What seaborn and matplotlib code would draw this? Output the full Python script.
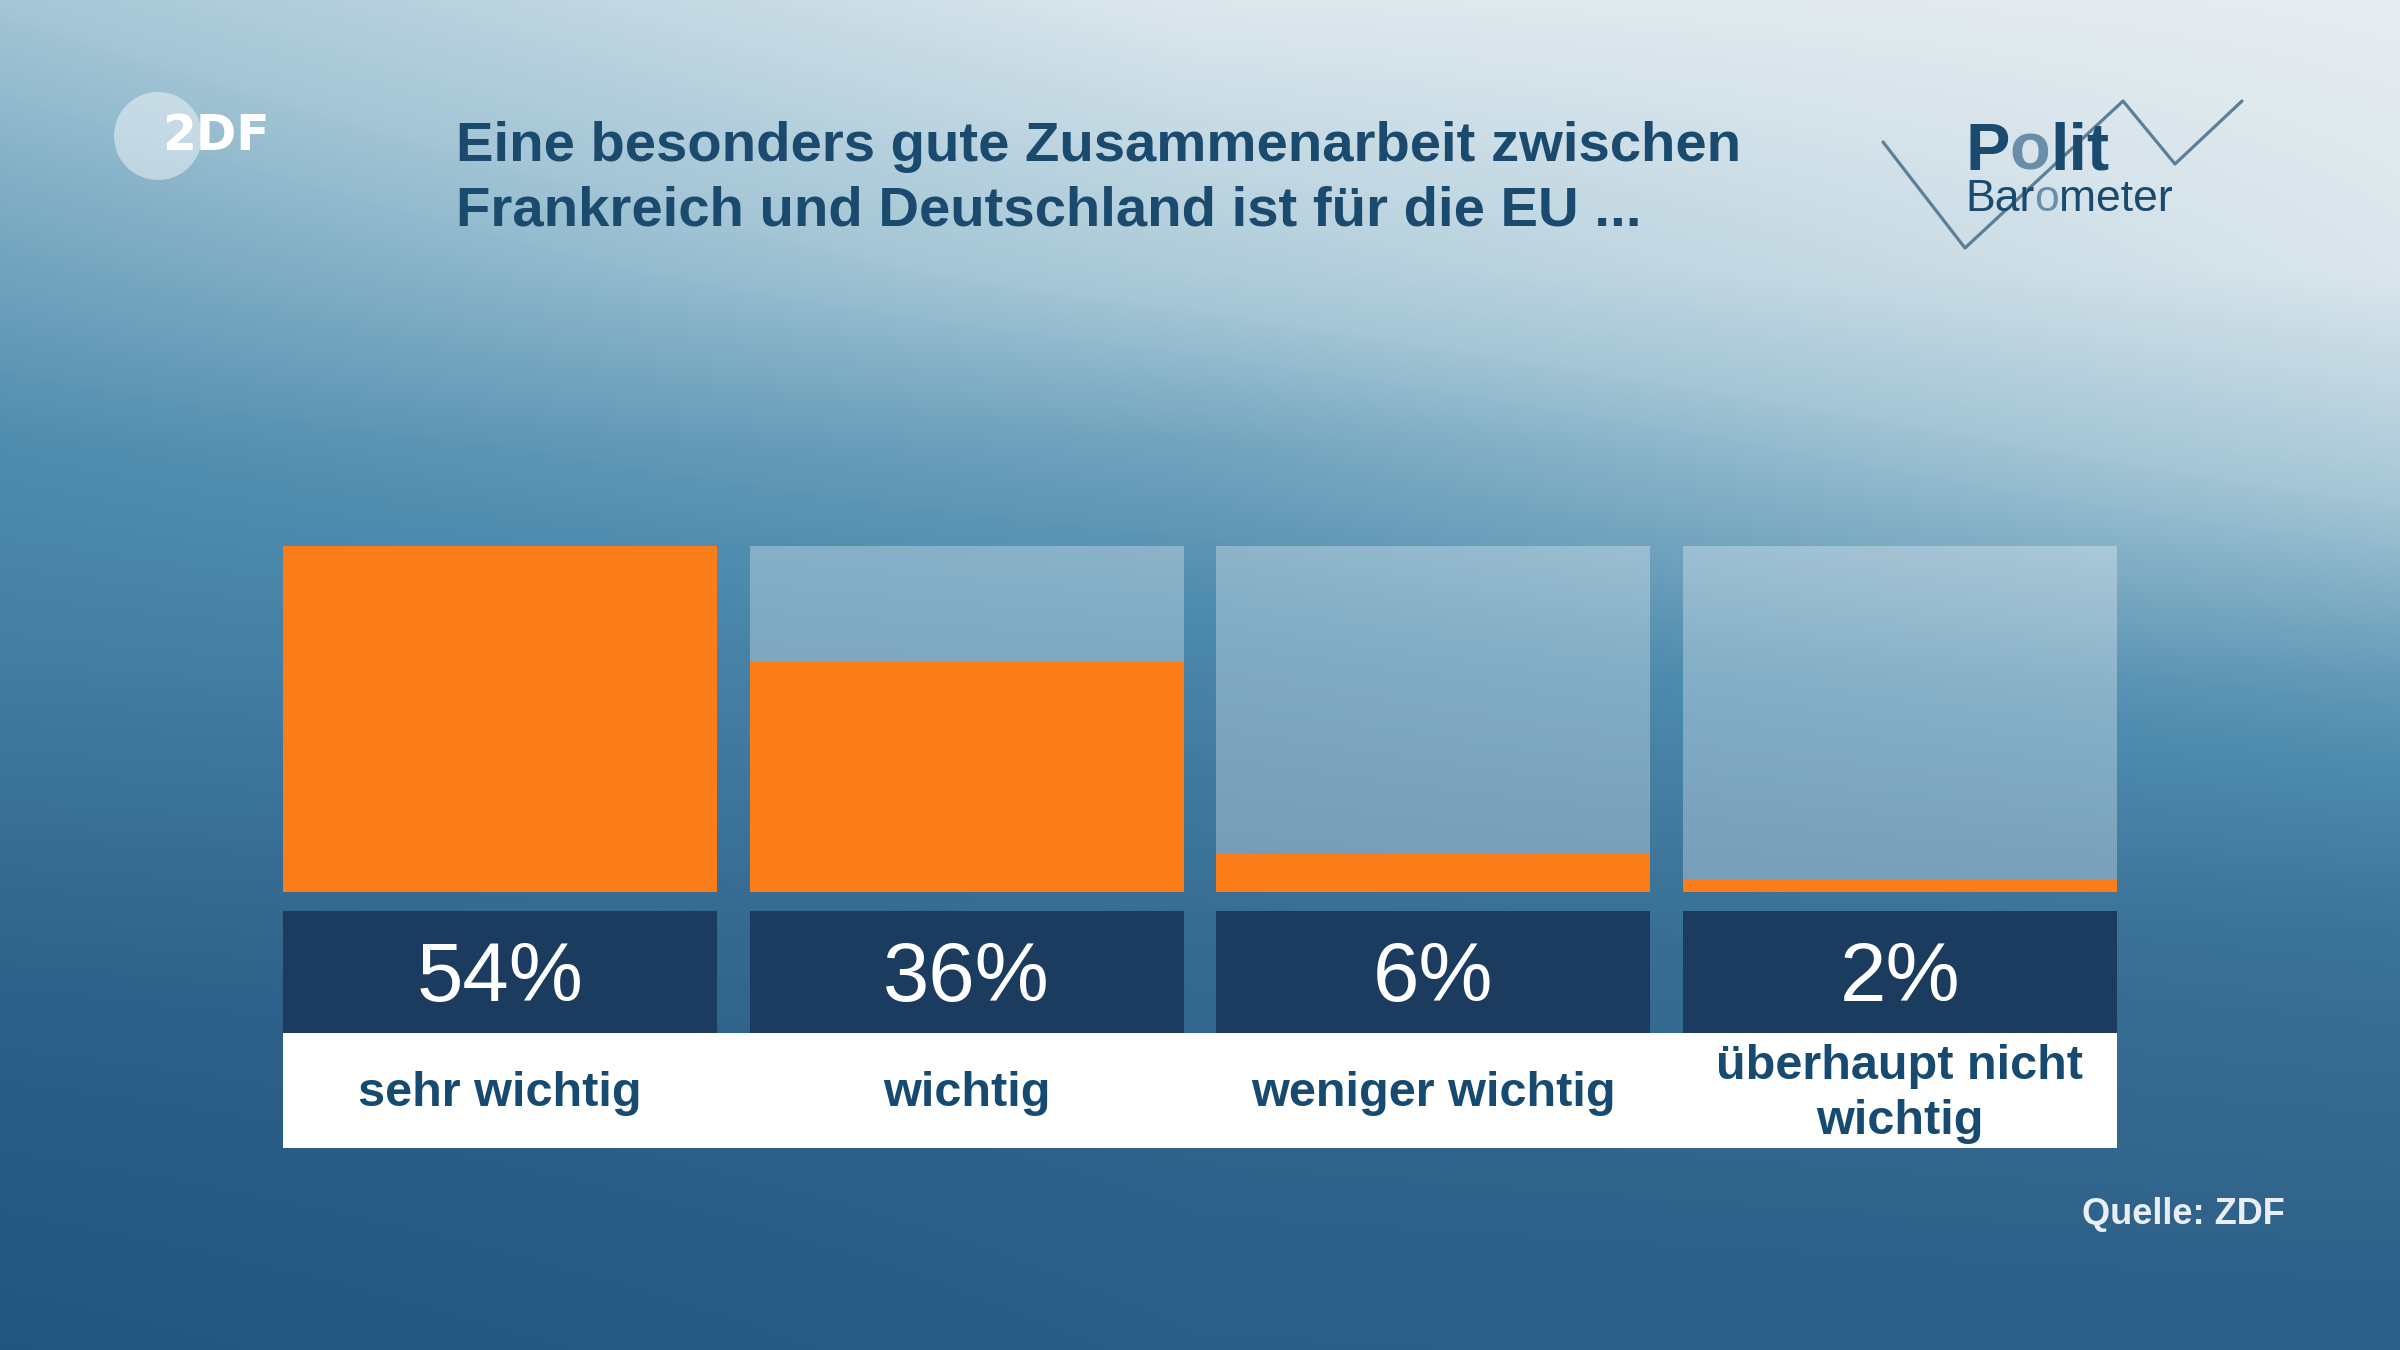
import numpy as np
import pandas as pd
import matplotlib
matplotlib.use("Agg")
import matplotlib.pyplot as plt
from matplotlib.colors import LinearSegmentedColormap
from matplotlib.patches import Ellipse, Rectangle
from matplotlib.lines import Line2D
import seaborn as sns

# data
categories = ["sehr wichtig", "wichtig", "weniger wichtig", "überhaupt nicht\nwichtig"]
values = [54, 36, 6, 2]
title = "Eine besonders gute Zusammenarbeit zwischen\nFrankreich und Deutschland ist für die EU ..."
source = "Quelle: ZDF"

ORANGE = "#fb7d1a"
DARK = "#1b3c5f"
TEXT_BLUE = "#174a70"

sns.set_theme(style="white")
plt.rcParams["font.family"] = ["Liberation Sans", "DejaVu Sans"]

fig = plt.figure(figsize=(24, 13.5), dpi=100)

# background gradient
bg = fig.add_axes([0, 0, 1, 1], zorder=0)
nh, nw = 270, 480
yf = np.linspace(0, 1, nh)[:, None]
xf = np.linspace(0, 1, nw)[None, :]
s_left = np.interp(yf, [0, .33, .5, .7, 1], [.72, .45, .36, .22, .04])
s_mid = np.interp(yf, [0, .2, .33, .5, .7, 1], [.96, .76, .56, .4, .26, .17])
s_right = np.interp(yf, [0, .2, .33, .5, .7, 1], [1, .95, .78, .52, .3, .18])
u = np.broadcast_to(xf, (nh, nw))
s = np.where(u < 0.5, s_left + (s_mid - s_left) * 2 * u,
             s_mid + (s_right - s_mid) * (2 * u - 1))
cmap = LinearSegmentedColormap.from_list(
    "bg", [(0, "#1f537d"), (0.2, "#2e6189"), (0.45, "#4f8cae"),
           (0.72, "#a4c6d6"), (1, "#e6edf1")])
bg.imshow(s, cmap=cmap, vmin=0, vmax=1, aspect="auto", interpolation="bilinear")
bg.axis("off")

# bars
W_BAR = 434 / 466
df = pd.DataFrame({"cat": categories, "val": values, "full": [max(values)] * len(values)})
ax = fig.add_axes([283 / 2400, 1 - 892 / 1350, 1834 / 2400, 346 / 1350], zorder=2)
ax.patch.set_alpha(0)
sns.barplot(data=df, x="cat", y="full", color="white", alpha=0.3, width=W_BAR,
            saturation=1, linewidth=0, edgecolor="none", ax=ax)
sns.barplot(data=df, x="cat", y="val", color=ORANGE, width=W_BAR, saturation=1,
            linewidth=0, edgecolor="none", ax=ax)
ax.set_xlim(-W_BAR / 2, len(values) - 1 + W_BAR / 2)
ax.set_ylim(0, max(values))
ax.axis("off")

# value boxes and label band
ax2 = fig.add_axes([283 / 2400, 1 - 1148 / 1350, 1834 / 2400, 237 / 1350], zorder=2)
ax2.patch.set_alpha(0)
ax2.set_xlim(ax.get_xlim())
ax2.set_ylim(0, 1)
ax2.add_patch(Rectangle((-W_BAR / 2, 0), len(values) - 1 + W_BAR, 0.487,
                        color="white", lw=0))
ax2.bar(range(len(values)), 0.513, bottom=0.487, width=W_BAR, color=DARK, lw=0)
for i, (c, v) in enumerate(zip(categories, values)):
    ax2.text(i, 0.715, f"{v}%", ha="center", va="center", color="white",
             fontsize=60, fontweight="normal")
    ax2.text(i, 0.228, c, ha="center", va="center", color=TEXT_BLUE,
             fontsize=35, fontweight="bold", linespacing=1.28)
ax2.axis("off")

# title
fig.text(456 / 2400, 1 - 179 / 1350, title, ha="left", va="center",
         color="#1a4a6e", fontsize=40.5, fontweight="bold", linespacing=1.3)

# ZDF logo
fig.patches.append(Ellipse((158 / 2400, 1 - 136 / 1350), 88 / 2400, 88 / 1350,
                           transform=fig.transFigure, color="white", alpha=0.45,
                           lw=0, zorder=3))
fig.text(162 / 2400, 1 - 136 / 1350, "2DF", ha="left", va="center",
         color="white", fontsize=35, fontweight="bold",
         family=["DejaVu Sans"], zorder=4)

# Politbarometer logo
zx = np.array([1883, 1965, 2123, 2175, 2242]) / 2400
zy = 1 - np.array([142, 248, 101, 164, 101]) / 1350
fig.lines.append(Line2D(zx, zy, transform=fig.transFigure, color="#5d7f96",
                        lw=2.3, zorder=3))


def pieces(x, y, parts, size, weight):
    fig.canvas.draw()
    r = fig.canvas.get_renderer()
    for txt, col in parts:
        t = fig.text(x, y, txt, ha="left", va="baseline", color=col,
                     fontsize=size, fontweight=weight, zorder=4)
        bb = t.get_window_extent(renderer=r)
        x = bb.x1 / fig.bbox.width


pieces(1965 / 2400, 1 - 170 / 1350,
       [("P", "#1a4a6e"), ("o", "#6a8ea8"), ("lit", "#1a4a6e")], 48, "bold")
pieces(1965 / 2400, 1 - 211 / 1350,
       [("Bar", "#1a4a6e"), ("o", "#6a8ea8"), ("meter", "#1a4a6e")], 32, "normal")

# source
fig.text(2285 / 2400, 1 - 1214 / 1350, source, ha="right", va="center",
         color="#e8eef4", fontsize=26, fontweight="bold")

fig.savefig("out.png", dpi=100)
